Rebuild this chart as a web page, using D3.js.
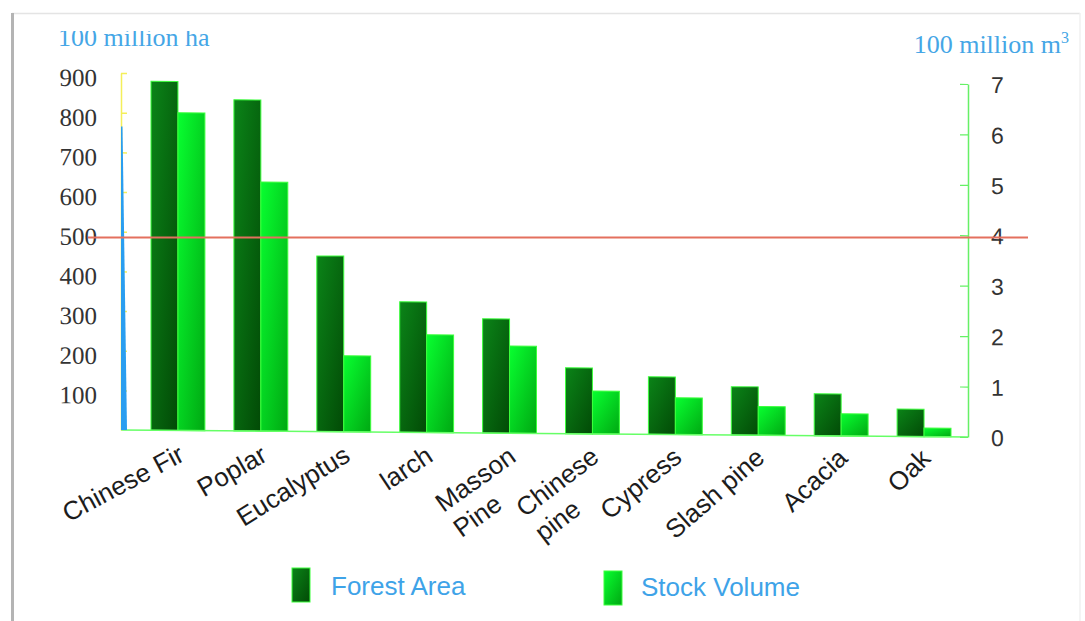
<!DOCTYPE html>
<html>
<head>
<meta charset="utf-8">
<script src="https://cdn.jsdelivr.net/npm/d3@7/dist/d3.min.js"></script>
<style>
  html, body { margin: 0; padding: 0; background: #fff; }
  svg { display: block; }
</style>
</head>
<body>
<svg id="chart" width="1085" height="621"></svg>
<script>
// Main plantation species: forest area (left axis) and stock volume (right axis)
const categoryLines = [
  ["Chinese Fir"], ["Poplar"], ["Eucalyptus"], ["larch"], ["Masson", "Pine"],
  ["Chinese", "pine"], ["Cypress"], ["Slash pine"], ["Acacia"], ["Oak"]
];
const categories = categoryLines.map(l => l.join(" "));
const forestArea = [880, 835, 443, 329, 288, 166, 145, 122, 106, 69];
const stockVolume = [6.30, 4.94, 1.51, 1.94, 1.73, 0.85, 0.73, 0.57, 0.44, 0.17];
const leftTicks = [100, 200, 300, 400, 500, 600, 700, 800, 900];
const rightTicks = [0, 1, 2, 3, 4, 5, 6, 7];
const referenceLevel = 485;          // horizontal guide, left-axis units
const seriesNames = ["Forest Area", "Stock Volume"];
const leftUnit = "100 million ha";
const rightUnit = "100 million m";

const svg = d3.select("#chart");
const defs = svg.append("defs");

function gradient(id, from, to) {
  const g = defs.append("linearGradient").attr("id", id)
    .attr("x1", 0).attr("y1", 0).attr("x2", 1).attr("y2", 1);
  g.append("stop").attr("offset", "0%").attr("stop-color", from);
  g.append("stop").attr("offset", "100%").attr("stop-color", to);
}
gradient("gArea", "#0b8418", "#024a06");
gradient("gVol", "#08ff30", "#00a812");

defs.append("clipPath").attr("id", "titleClip")
  .append("rect").attr("x", 0).attr("y", 31).attr("width", 400).attr("height", 40);

// frame
svg.append("line").attr("x1", 12).attr("x2", 1080).attr("y1", 13.5).attr("y2", 13.5)
  .attr("stroke", "#e4e4e4").attr("stroke-width", 1.5);
svg.append("line").attr("x1", 12.5).attr("x2", 12.5).attr("y1", 13).attr("y2", 621)
  .attr("stroke", "#b4b4b4").attr("stroke-width", 3);
svg.append("line").attr("x1", 1080).attr("x2", 1080).attr("y1", 13).attr("y2", 621)
  .attr("stroke", "#f0f0f0").attr("stroke-width", 1.5);

const axisX = 121, axisXRight = 968;

const x = d3.scaleBand().domain(categories).range([136.5, 965.5])
  .paddingInner(0.35).paddingOuter(0.175);
const xs = d3.scaleBand().domain(seriesNames).range([0, x.bandwidth()]);
const yLeft = d3.scaleLinear().domain([0, 900]).range([430, 73]);
const yRight = d3.scaleLinear().domain([0, 7]).range([430, 77]);

// plot area is slightly tilted
const tilt = Math.atan(7 / (axisXRight - axisX)) * 180 / Math.PI;
const plot = svg.append("g")
  .attr("transform", `translate(${axisX},0) skewY(${tilt}) translate(${-axisX},0)`);

// bars
const groups = plot.selectAll("g.cat").data(categories).join("g")
  .attr("class", "cat").attr("transform", d => `translate(${x(d)},0)`);
groups.append("rect")
  .attr("x", xs("Forest Area")).attr("width", xs.bandwidth())
  .attr("y", (d, i) => yLeft(forestArea[i]))
  .attr("height", (d, i) => yLeft(0) - yLeft(forestArea[i]))
  .attr("fill", "url(#gArea)").attr("stroke", "#3cff3c").attr("stroke-width", 1);
groups.append("rect")
  .attr("x", xs("Stock Volume")).attr("width", xs.bandwidth())
  .attr("y", (d, i) => yRight(stockVolume[i]))
  .attr("height", (d, i) => yRight(0) - yRight(stockVolume[i]))
  .attr("fill", "url(#gVol)").attr("stroke", "#3cff3c").attr("stroke-width", 1);

// baseline
plot.append("line").attr("x1", axisX).attr("x2", axisXRight)
  .attr("y1", yLeft(0)).attr("y2", yLeft(0))
  .attr("stroke", "#66ff66").attr("stroke-width", 1.5);

// left axis
const leftAxis = plot.append("g").attr("transform", `translate(${axisX},0)`)
  .call(d3.axisLeft(yLeft).tickValues(leftTicks).tickSize(-6).tickSizeOuter(0).tickPadding(24));
leftAxis.select(".domain").attr("stroke", "#f4ef5a").attr("stroke-width", 1.5);
leftAxis.selectAll(".tick line").attr("stroke", "#f4ef5a").attr("stroke-width", 1.5);
leftAxis.selectAll(".tick text").attr("y", 5)
  .attr("font-family", "'Liberation Serif', serif").attr("font-size", 25).attr("fill", "#333");

// thin blue wedge along the left axis
plot.append("path")
  .attr("d", d3.line()([[axisX, yLeft(765)], [axisX + 1.5, yLeft(765)], [axisX + 6, yLeft(0)], [axisX, yLeft(0)]]) + "Z")
  .attr("fill", "#2a9ef0");

// right axis
const rightAxis = plot.append("g").attr("transform", `translate(${axisXRight},0)`)
  .call(d3.axisRight(yRight).tickValues(rightTicks).tickFormat(d3.format("d"))
    .tickSize(-8).tickSizeOuter(0).tickPadding(23));
rightAxis.select(".domain").attr("stroke", "#66f066").attr("stroke-width", 1.5);
rightAxis.selectAll(".tick line").attr("stroke", "#66f066").attr("stroke-width", 1.2);
rightAxis.selectAll(".tick text").attr("y", 1)
  .attr("font-family", "'Liberation Sans', Arial, sans-serif").attr("font-size", 23).attr("fill", "#333");

// horizontal guide line
svg.append("line").attr("x1", 88).attr("x2", 1028)
  .attr("y1", yLeft(referenceLevel)).attr("y2", yLeft(referenceLevel))
  .attr("stroke", "#e4705e").attr("stroke-width", 2);

// unit titles
svg.append("text").attr("x", 58).attr("y", 46).attr("clip-path", "url(#titleClip)")
  .attr("font-family", "'Liberation Serif', serif").attr("font-size", 26)
  .attr("fill", "#45a6e6").text(leftUnit);
const rt = svg.append("text").attr("x", 1069).attr("y", 53).attr("text-anchor", "end")
  .attr("font-family", "'Liberation Serif', serif").attr("font-size", 26).attr("fill", "#45a6e6");
rt.append("tspan").text(rightUnit);
rt.append("tspan").attr("font-size", 16).attr("dy", -10).text("3");

// category labels, rotation steepens slightly toward the right
const angleAt = i => -28 - 17 * i / (categories.length - 1);
const lineGap = 31;
const labels = svg.append("g").selectAll("g").data(categories).join("g")
  .attr("transform", (d, i) => `translate(${x(d) + x.bandwidth() / 2 + 8},460) rotate(${angleAt(i)})`)
  .attr("font-family", "'Liberation Sans', Arial, sans-serif").attr("font-size", 26).attr("fill", "#1c1c1c");
labels.each(function (d, i) {
  const g = d3.select(this);
  const lines = categoryLines[i];
  const texts = lines.map((t, j) => g.append("text").attr("y", j * lineGap).text(t));
  const w = d3.max(texts, t => t.node().getComputedTextLength());
  texts.forEach(t => t.attr("x", -w));
});

// legend
const legendPos = [[292, 568, 331, 595], [604, 571, 641, 596]];
seriesNames.forEach((name, i) => {
  const [sx, sy, tx, ty] = legendPos[i];
  svg.append("rect").attr("x", sx).attr("y", sy).attr("width", 18).attr("height", 34)
    .attr("fill", i === 0 ? "url(#gArea)" : "url(#gVol)")
    .attr("stroke", "#3cff3c").attr("stroke-width", 1);
  svg.append("text").attr("x", tx).attr("y", ty)
    .attr("font-family", "'Liberation Sans', Arial, sans-serif").attr("font-size", 26)
    .attr("fill", "#3ea3e8").text(name);
});
</script>
</body>
</html>
